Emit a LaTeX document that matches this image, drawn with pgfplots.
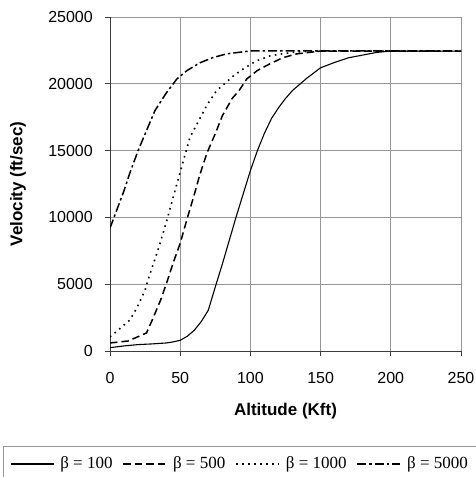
\documentclass[border=0pt]{standalone}
\usepackage{fontspec}
\setmainfont{Liberation Sans}
\newfontfamily\legendfont{Liberation Serif}
\usepackage{pgfplots}
\pgfplotsset{compat=1.18}
\definecolor{gridc}{RGB}{150,150,150}
\definecolor{axc}{RGB}{60,60,60}
\begin{document}
\begin{tikzpicture}
\begin{axis}[
  at={(110bp,126bp)}, anchor=south west,
  scale only axis, width=351bp, height=334bp,
  xmin=0, xmax=250, ymin=0, ymax=25000,
  xtick={0,50,...,250}, ytick={0,5000,...,25000},
  axis x line*=bottom, axis y line*=left,
  axis line style={axc, line width=0.8bp, -},
  grid=major, major grid style={gridc, line width=0.9bp},
  tick align=outside, major tick length=5bp,
  tick style={axc, line width=0.8bp},
  scaled ticks=false,
  /pgf/number format/assume math mode=true,
  /pgf/number format/set thousands separator={},
  ticklabel style={font=\fontsize{16bp}{19bp}\selectfont, inner sep=0pt},
  yticklabel style={anchor=east, xshift=-12bp},
  xticklabel style={anchor=north, yshift=-16bp},
  xlabel={Altitude (Kft)},
  ylabel={Velocity (ft/sec)},
  xlabel style={at={(axis description cs:0.5,-0.1796)}, anchor=center, font=\bfseries\fontsize{17bp}{20bp}\selectfont},
  ylabel style={at={(axis description cs:-0.262,0.5)}, anchor=center, font=\bfseries\fontsize{17bp}{20bp}\selectfont},
  legend columns=4,
  legend style={at={(axis description cs:-0.2849,-0.3353)}, anchor=west, draw=none, fill=none, inner sep=0pt,
    font=\legendfont\fontsize{17bp}{20bp}\selectfont,
    nodes={inner sep=0pt},
    /tikz/every odd column/.style={column sep=6bp},
    /tikz/every even column/.style={column sep=10bp}},
  legend image code/.code={\draw[#1] (0bp,-1bp) -- (43bp,-1bp);},
]
\addplot[black, line width=1.1bp] coordinates {
(0,250) (10,380) (20,480) (30,530) (40,600) (45,680) (50,800) (55,1100) (60,1550) (65,2200) (70,3050) (75,4800) (80,6500) (85,8300) (90,10100) (95,11800) (100,13500) (105,15000) (110,16300) (115,17400) (120,18200) (125,18900) (130,19500) (140,20400) (150,21200) (160,21600) (170,21950) (180,22150) (190,22350) (200,22450) (250,22450)};
\addlegendentry{β = 100}
\addplot[black, line width=1.5bp, dash pattern=on 7.5bp off 4bp] coordinates {
(0,600) (13,750) (26,1350) (30,2300) (36,3800) (41,5300) (45,6600) (50,8060) (55,9925) (60,11700) (64,13200) (69,14800) (75,16270) (80,17600) (87,18900) (92,19500) (97.5,20370) (105,21000) (114,21500) (123,21950) (133,22240) (150,22450) (250,22450)};
\addlegendentry{β = 500}
\addplot[black, line width=1.6bp, dash pattern=on 1.6bp off 4.4bp] coordinates {
(0,1050) (14,2300) (19,3200) (25,4550) (27,5300) (34,7500) (40.5,9780) (45,11500) (50,13400) (57,16000) (64,17400) (69,18400) (76,19500) (80.5,19900) (88,20600) (95,21120) (104,21700) (114,22090) (123,22250) (133,22390) (150,22450) (250,22450)};
\addlegendentry{β = 1000}
\addplot[black, line width=1.5bp, dash pattern=on 9bp off 3bp on 2.5bp off 3bp] coordinates {
(0,9200) (10,12000) (14,13280) (20,15000) (32,17990) (40,19300) (47.7,20370) (55,21000) (64,21570) (73,21950) (83,22240) (100,22460) (250,22460)};
\addlegendentry{β = 5000}
\end{axis}
\draw[gridc, line width=1bp] (3bp,30bp) rectangle (520bp,-30bp);
\pgfresetboundingbox
\path[use as bounding box] (0,0) rectangle (476bp,477bp);
\end{tikzpicture}
\end{document}
